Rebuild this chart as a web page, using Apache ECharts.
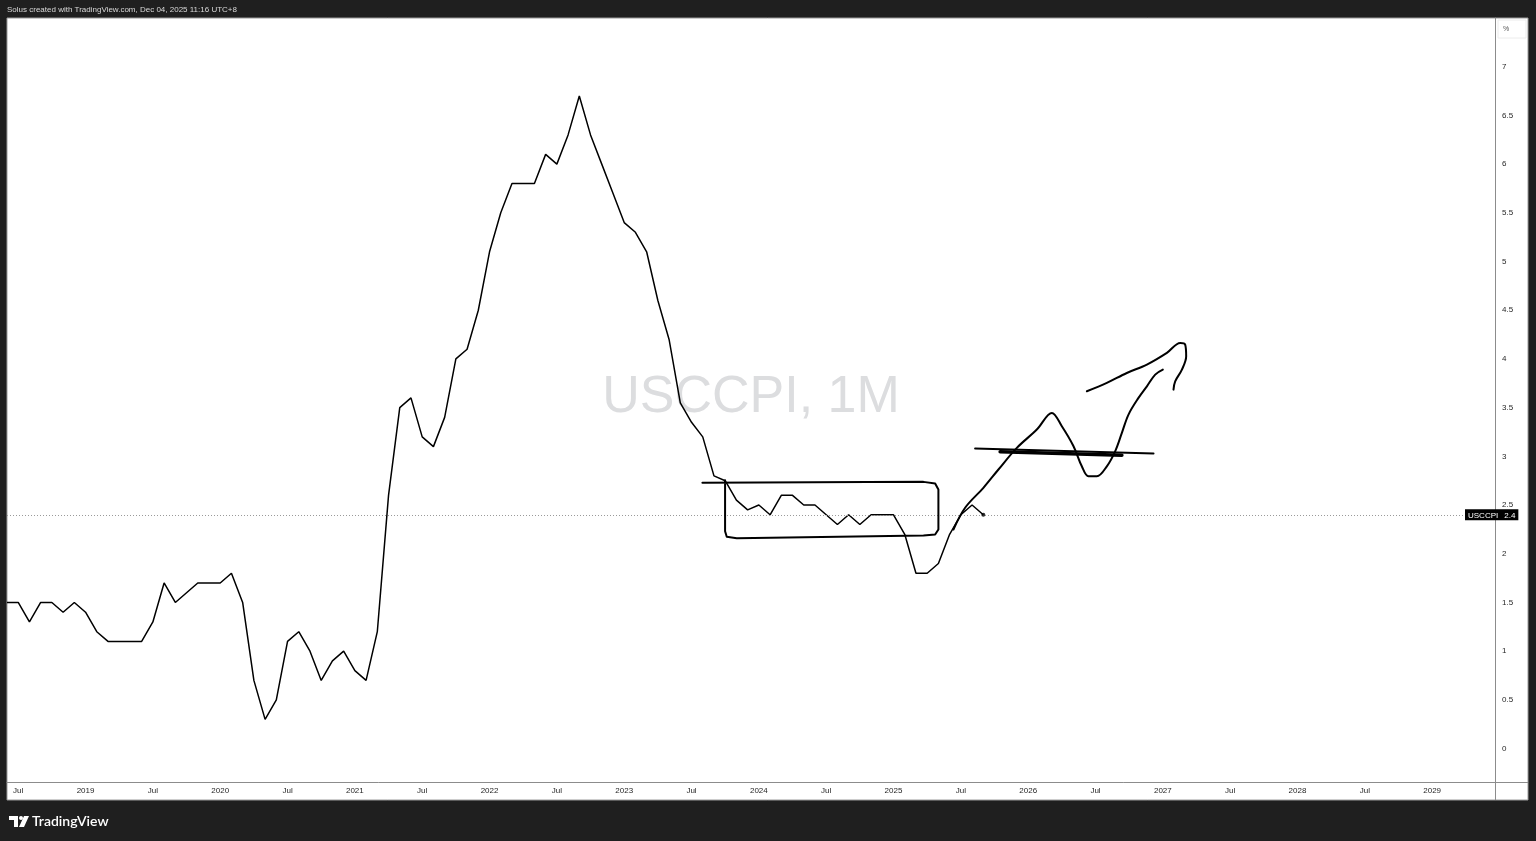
<!DOCTYPE html>
<html>
<head>
<meta charset="utf-8">
<script src="https://cdn.jsdelivr.net/npm/echarts@6/dist/echarts.min.js"></script>
<style>
html,body{margin:0;padding:0;background:#1f1f1f;}
#chart{width:1536px;height:841px;}
</style>
</head>
<body>
<div id="chart"></div>
<script>
// ---- data ----
const seriesName = 'USCCPI';
const startYear = 2018;
const startMonth = 5; // June (0-based), first monthly observation
const values = [
  1.5,1.5,1.3,1.5,1.5,1.4,1.5,1.4,1.2,1.1,
  1.1,1.1,1.1,1.3,1.7,1.5,1.6,1.7,1.7,1.7,
  1.8,1.5,0.7,0.3,0.5,1.1,1.2,1.0,0.7,0.9,
  1.0,0.8,0.7,1.2,2.6,3.5,3.6,3.2,3.1,3.4,
  4.0,4.1,4.5,5.1,5.5,5.8,5.8,5.8,6.1,6.0,
  6.3,6.7,6.3,6.0,5.7,5.4,5.3,5.1,4.6,4.2,
  3.55,3.35,3.2,2.8,2.75,2.55,2.45,2.5,2.4,2.6,
  2.6,2.5,2.5,2.4,2.3,2.4,2.3,2.4,2.4,2.4,
  2.2,1.8,1.8,1.9,2.2,2.4,2.5,2.4
];
const yTicks = [0,0.5,1,1.5,2,2.5,3,3.5,4,4.5,5,5.5,6,6.5,7];
const xMin = 0, xMax = 132.6;   // month index range shown
const yMin = -0.343, yMax = 7.5;

// hand-drawn annotations, in [monthIndex, value]
const boxPath = [[61.97,2.728],[81.67,2.738],[82.71,2.721],[83.0,2.659],[83.0,2.249],[82.71,2.197],[81.67,2.187],[65.03,2.160],[64.14,2.174],[63.99,2.232],[63.99,2.755]];
const waveCurve = [[84.34,2.249],[85.38,2.472],[87.01,2.677],[88.35,2.865],[89.99,3.087],[91.77,3.275],[93.11,3.446],[94.0,3.309],[95.04,3.104],[95.78,2.898],[96.37,2.796],[97.12,2.796],[98.01,2.898],[98.75,3.052],[99.35,3.241],[99.94,3.429],[100.83,3.600],[101.58,3.719],[102.32,3.839],[103.0,3.890]];
const arrowCurve = [[96.23,3.668],[98.01,3.754],[99.79,3.856],[101.58,3.942],[103.36,4.062],[104.55,4.164],[104.99,4.147],[105.08,4.027],[104.70,3.890],[104.10,3.770],[103.95,3.685]];
const levelLine = [[86.27,3.080],[102.17,3.029]];
const levelLineThick = [[88.50,3.046],[99.35,3.011]];

// ---- build ----
const lineData = values.map((v,i)=>[i,v]);
const lastIdx = values.length-1;
const lastVal = values[lastIdx];

function fmtX(v){
  const r = Math.round(v);
  if (Math.abs(v-r) > 1e-6) return '';
  const t = startMonth + r;
  const m = ((t % 12)+12)%12;
  const y = startYear + Math.floor(t/12);
  if (m === 0) return String(y);
  if (m === 6) return 'Jul';
  return '';
}

function annot(data, smooth, width){
  return {type:'line', data, smooth, showSymbol:false, silent:true, z:5,
    lineStyle:{color:'#000', width: width||2, cap:'round', join:'round'}};
}

const chart = echarts.init(document.getElementById('chart'), null, {renderer:'canvas'});
const option = {
  backgroundColor:'#1f1f1f',
  animation:false,
  textStyle:{fontFamily:'Liberation Sans, Arial, sans-serif'},
  grid:{left:7, top:18, width:1488, height:764, containLabel:false},
  xAxis:{
    type:'value', min:xMin, max:xMax, interval:1,
    axisLine:{show:true, onZero:false, lineStyle:{color:'#8c8c8c', width:1}},
    axisTick:{show:false}, splitLine:{show:false},
    axisLabel:{color:'#262626', fontSize:8, margin:5, formatter:fmtX, hideOverlap:false}
  },
  yAxis:{
    type:'value', position:'right', min:yMin, max:yMax,
    axisLine:{show:true, onZero:false, lineStyle:{color:'#8c8c8c', width:1}},
    axisTick:{show:false}, splitLine:{show:false},
    axisLabel:{customValues:yTicks, color:'#262626', fontSize:8, margin:7, align:'left',
      formatter:(v)=>String(v)}
  },
  graphic:[
    {type:'rect', z:-10, silent:true, shape:{x:7,y:18,width:1521,height:782}, style:{fill:'#fff', stroke:'#9a9a9a', lineWidth:1}},
    {type:'line', z:10, silent:true, shape:{x1:1495.5,y1:782,x2:1495.5,y2:800}, style:{stroke:'#8c8c8c', lineWidth:1}},
    {type:'line', z:10, silent:true, shape:{x1:1495,y1:782.5,x2:1528,y2:782.5}, style:{stroke:'#8c8c8c', lineWidth:1}},
    {type:'rect', z:10, silent:true, shape:{x:1498,y:20,width:28,height:18}, style:{fill:'#fff', stroke:'#ececec', lineWidth:1}},
    {type:'text', z:11, silent:true, style:{x:1503, y:29, text:'%', fill:'#555', fontSize:7, verticalAlign:'middle', fontFamily:'Liberation Sans'}},
    {type:'text', z:-9, silent:true, style:{x:751, y:398, text:'USCCPI, 1M', fill:'#dcdddf', fontSize:52, align:'center', verticalAlign:'middle', fontFamily:'Liberation Sans, Arial'}},
    {type:'text', z:10, silent:true, style:{x:7, y:10, text:'Solus created with TradingView.com, Dec 04, 2025 11:16 UTC+8', fill:'#d8d8d8', fontSize:8, verticalAlign:'middle', fontFamily:'Liberation Sans'}},
    // logo
    {type:'rect', z:10, silent:true, shape:{x:9,y:816,width:9,height:4}, style:{fill:'#fff'}},
    {type:'rect', z:10, silent:true, shape:{x:14,y:816,width:4,height:11}, style:{fill:'#fff'}},
    {type:'circle', z:10, silent:true, shape:{cx:21,cy:818,r:2}, style:{fill:'#fff'}},
    {type:'polygon', z:10, silent:true, shape:{points:[[24,816],[29,816],[24,827],[19,827]]}, style:{fill:'#fff'}},
    {type:'text', z:10, silent:true, style:{x:32, y:821, text:'TradingView', fill:'#fff', fontSize:14, fontWeight:600, verticalAlign:'middle', fontFamily:'Lato, Liberation Sans'}}
  ],
  series:[
    {
      name:seriesName, type:'line', data:lineData, showSymbol:false, z:4, silent:true,
      lineStyle:{color:'#000', width:1.5},
      markLine:{
        silent:true, symbol:['none','none'],
        data:[{yAxis:lastVal}],
        lineStyle:{color:'#9a9a9a', type:[1,2], width:1},
        label:{show:true, position:'end', distance:-30,
          formatter:()=>'{n|'+seriesName+'}{v|'+lastVal+'}',
          backgroundColor:'#000', padding:[2,3,1,3],
          rich:{n:{color:'#fff', fontSize:8, padding:[0,6,0,0]}, v:{color:'#fff', fontSize:8}}
        }
      }
    },
    {type:'scatter', data:[[lastIdx,lastVal]], symbolSize:4, itemStyle:{color:'#000'}, z:6, silent:true},
    annot(boxPath, false, 2),
    annot(waveCurve, 0.35, 2),
    annot(arrowCurve, 0.35, 2),
    annot(levelLine, false, 2),
    annot(levelLineThick, false, 3.5)
  ]
};
chart.setOption(option);
</script>
</body>
</html>
